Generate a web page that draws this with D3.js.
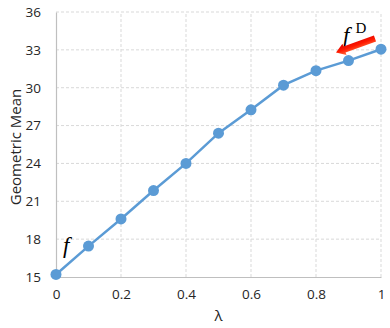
<!DOCTYPE html>
<html>
<head>
<meta charset="utf-8">
<script src="https://cdn.jsdelivr.net/npm/d3@7"></script>
<style>
  body { margin: 0; background: #fff; }
  text { font-family: "Open Sans", "Noto Sans", sans-serif; fill: #262626; }
</style>
</head>
<body>
<svg id="chart" width="390" height="328"></svg>
<script>
const lambdas = [0, 0.1, 0.2, 0.3, 0.4, 0.5, 0.6, 0.7, 0.8, 0.9, 1];
const geoMean = [15.2, 17.45, 19.6, 21.85, 24.0, 26.4, 28.25, 30.2, 31.35, 32.15, 33.05];
const xTicks = [0, 0.2, 0.4, 0.6, 0.8, 1];
const yTicks = [15, 18, 21, 24, 27, 30, 33, 36];

const svg = d3.select('#chart');
const margin = {left: 56, right: 9, top: 12, bottom: 51};
const width = 390 - margin.left - margin.right;
const height = 328 - margin.top - margin.bottom;

const x = d3.scaleLinear().domain([0, 1]).range([margin.left, margin.left + width]);
const y = d3.scaleLinear().domain([15, 36]).range([margin.top + height, margin.top]);

// grid
svg.append('g')
  .selectAll('line.hgrid').data(yTicks.slice(1)).enter().append('line')
  .attr('x1', x(0)).attr('x2', x(1))
  .attr('y1', d => y(d)).attr('y2', d => y(d))
  .style('stroke', '#d9d9d9').style('stroke-dasharray', '3,2');
svg.append('g')
  .selectAll('line.vgrid').data(xTicks.slice(1)).enter().append('line')
  .attr('x1', d => x(d)).attr('x2', d => x(d))
  .attr('y1', y(15)).attr('y2', y(36))
  .style('stroke', '#d9d9d9').style('stroke-dasharray', '3,2');

// axes
let xAxis = svg.append('g').attr('transform', 'translate(0,' + y(15) + ')')
  .call(d3.axisBottom(x).tickValues(xTicks).tickSize(0).tickPadding(12).tickFormat(d3.format('')));
let yAxis = svg.append('g').attr('transform', 'translate(' + x(0) + ',0)')
  .call(d3.axisLeft(y).tickValues(yTicks).tickSize(0).tickPadding(15));
[xAxis, yAxis].forEach(a => {
  a.select('.domain').style('stroke', '#bfbfbf').style('stroke-width', 1.2);
  a.selectAll('text').style('font-size', '13.5px').style('fill', '#262626');
});

// axis titles
svg.append('text')
  .attr('x', x(0.5)).attr('y', 321)
  .attr('text-anchor', 'middle')
  .style('font-size', '15px')
  .text('λ');
svg.append('text')
  .attr('transform', 'translate(21,' + y(25.3) + ') rotate(-90)')
  .attr('text-anchor', 'middle')
  .style('font-size', '15px')
  .text('Geometric Mean');

// series
const line = d3.line().x((d, i) => x(lambdas[i])).y(d => y(d));
svg.append('path').datum(geoMean)
  .attr('d', line)
  .style('fill', 'none').style('stroke', '#5b9bd5').style('stroke-width', 2.5);
svg.append('g').selectAll('circle').data(geoMean).enter().append('circle')
  .attr('cx', (d, i) => x(lambdas[i])).attr('cy', d => y(d))
  .attr('r', 5.5)
  .style('fill', '#5b9bd5');

// annotations
svg.append('text')
  .attr('x', 63).attr('y', 253)
  .style('font-family', '"Liberation Serif", serif').style('font-style', 'italic')
  .style('font-size', '23px').style('fill', '#000')
  .text('f');
let fd = svg.append('text')
  .attr('x', 343).attr('y', 43)
  .style('font-family', '"Liberation Serif", serif')
  .style('font-size', '23px').style('fill', '#000');
fd.append('tspan').style('font-style', 'italic').text('f');
fd.append('tspan').attr('dx', 6).attr('dy', -10).style('font-size', '15px').text('D');

// red arrow
const defs = svg.append('defs');
const grad = defs.append('linearGradient').attr('id', 'arrowGrad')
  .attr('x1', '0').attr('y1', '0').attr('x2', '0').attr('y2', '1');
grad.append('stop').attr('offset', '0').attr('stop-color', '#ff7040');
grad.append('stop').attr('offset', '0.5').attr('stop-color', '#ff1a00');
grad.append('stop').attr('offset', '1').attr('stop-color', '#e00000');
const ax0 = 375, ay0 = 38.5, ax1 = 336, ay1 = 52.5;
const ang = Math.atan2(ay1 - ay0, ax1 - ax0) * 180 / Math.PI;
const len = Math.hypot(ax1 - ax0, ay1 - ay0);
svg.append('path')
  .attr('transform', 'translate(' + ax0 + ',' + ay0 + ') rotate(' + ang + ')')
  .attr('d', 'M0,-3.2 L' + (len - 9) + ',-3.2 L' + (len - 9) + ',-6 L' + len + ',0 L' + (len - 9) + ',6 L' + (len - 9) + ',3.2 L0,3.2 Z')
  .style('fill', 'url(#arrowGrad)');
</script>
</body>
</html>
